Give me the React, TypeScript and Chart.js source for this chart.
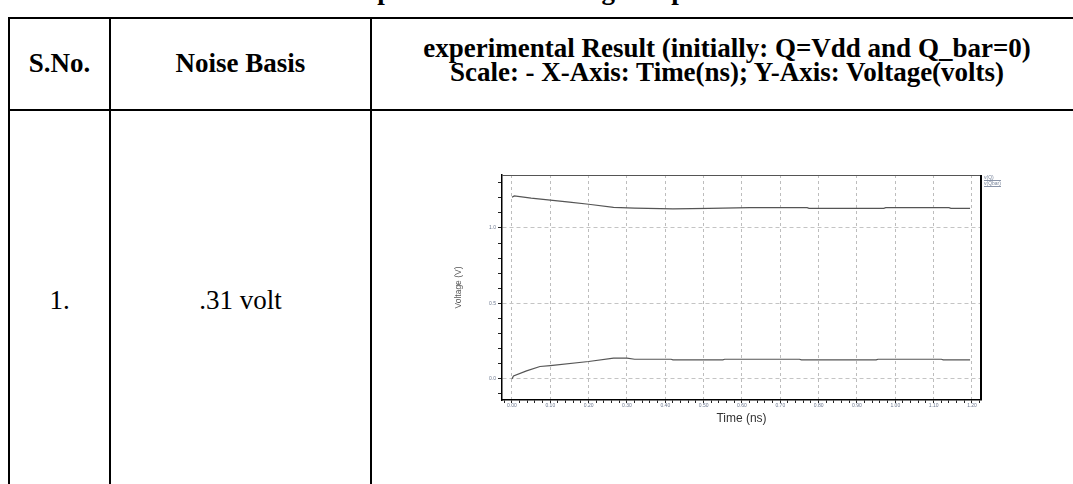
import React, { useEffect, useRef } from 'react';
import { Chart, registerables } from 'chart.js';

Chart.register(...registerables);

// ---- data ----
const timeQ = [0.0, 0.006, 0.05, 0.1, 0.15, 0.2, 0.265, 0.32, 0.42, 0.515, 0.62, 0.77, 0.775, 0.97, 0.975, 1.14, 1.145, 1.195];
const voltQ = [1.203, 1.212, 1.198, 1.185, 1.171, 1.157, 1.137, 1.132, 1.126, 1.13, 1.135, 1.135, 1.13, 1.13, 1.135, 1.135, 1.13, 1.13];
const timeQbar = [0.0, 0.004, 0.038, 0.073, 0.1, 0.2, 0.265, 0.3, 0.32, 0.415, 0.42, 0.55, 0.555, 0.75, 0.755, 0.95, 0.955, 1.12, 1.125, 1.195];
const voltQbar = [0.0, 0.02, 0.053, 0.082, 0.088, 0.115, 0.137, 0.137, 0.13, 0.13, 0.126, 0.126, 0.13, 0.13, 0.126, 0.126, 0.13, 0.13, 0.126, 0.126];
const seriesNames = ['v(Q)', 'v(Qbar)'];
const xMajorStep = 0.1;
const xMinorStep = 0.02;
const yLabelStep = 0.5;
const yMinorStep = 0.1;

const caption = 'Table 7: Sleep Mode Noise Voltage output state Source';
const headers = ['S.No.', 'Noise Basis'];
const header3 = ['experimental Result (initially: Q=Vdd and Q_bar=0)', 'Scale: - X-Axis: Time(ns); Y-Axis: Voltage(volts)'];
const row1 = ['1.', '.31 volt'];

const near = (v: number, step: number) => Math.abs(v / step - Math.round(v / step)) < 1e-6;

function VoltageChart() {
  const ref = useRef<HTMLCanvasElement | null>(null);
  useEffect(() => {
    if (!ref.current) return;
    const frame = {
      id: 'frame',
      afterDraw(chart: any) {
        const { ctx, chartArea: a } = chart;
        ctx.save();
        ctx.strokeStyle = '#555';
        ctx.lineWidth = 1;
        ctx.beginPath();
        ctx.moveTo(a.left, a.top + 0.5);
        ctx.lineTo(a.right, a.top + 0.5);
        ctx.stroke();
        ctx.strokeStyle = '#000';
        ctx.lineWidth = 2;
        ctx.beginPath();
        ctx.moveTo(a.right, a.top);
        ctx.lineTo(a.right, a.bottom);
        ctx.stroke();
        ctx.restore();
      },
    };
    const chart = new Chart(ref.current, {
      type: 'line',
      data: {
        datasets: [
          {
            label: seriesNames[0],
            data: timeQ.map((t, i) => ({ x: t, y: voltQ[i] })),
            borderColor: '#555',
            borderWidth: 1.2,
            pointRadius: 0,
            tension: 0,
          },
          {
            label: seriesNames[1],
            data: timeQbar.map((t, i) => ({ x: t, y: voltQbar[i] })),
            borderColor: '#555',
            borderWidth: 1.2,
            pointRadius: 0,
            tension: 0,
          },
        ],
      },
      options: {
        animation: false,
        responsive: false,
        layout: { padding: { top: 15, right: 39, left: 0, bottom: 0 } },
        plugins: { legend: { display: false }, tooltip: { enabled: false } },
        scales: {
          x: {
            type: 'linear',
            min: -0.026,
            max: 1.2235,
            afterBuildTicks: (scale: any) => {
              const ticks = [];
              for (let i = -1; i <= 61; i++) ticks.push({ value: Math.round(i * xMinorStep * 100) / 100 });
              scale.ticks = ticks;
            },
            afterFit: (scale: any) => {
              scale.height = 40;
            },
            ticks: {
              autoSkip: false,
              maxRotation: 0,
              padding: 0,
              font: { family: 'Liberation Sans, Arial, sans-serif', size: 5 },
              color: '#6d7890',
              callback: (v: any) => (near(Number(v), xMajorStep) ? Number(v).toFixed(2) : ''),
            },
            grid: {
              color: (c: any) => (c.tick && near(c.tick.value, xMajorStep) ? '#bdbdbd' : 'rgba(0,0,0,0)'),
              lineWidth: 1,
              tickColor: '#222',
              tickLength: 3,
            },
            border: { color: '#000', width: 1.5, dash: [3, 3] },
            title: {
              display: true,
              text: 'Time (ns)',
              color: '#333',
              font: { family: 'Liberation Sans, Arial, sans-serif', size: 12 },
              padding: { top: 0, bottom: 14 },
            },
          },
          y: {
            type: 'linear',
            min: -0.14,
            max: 1.351,
            afterBuildTicks: (scale: any) => {
              const ticks = [];
              for (let i = -1; i <= 13; i++) ticks.push({ value: Math.round(i * yMinorStep * 10) / 10 });
              scale.ticks = ticks;
            },
            afterFit: (scale: any) => {
              scale.width = 62;
            },
            ticks: {
              autoSkip: false,
              padding: 2,
              font: { family: 'Liberation Sans, Arial, sans-serif', size: 5 },
              color: '#6d7890',
              callback: (v: any) => (near(Number(v), yLabelStep) ? Number(v).toFixed(1) : ''),
            },
            grid: {
              color: (c: any) => (c.tick && near(c.tick.value, yLabelStep) ? '#c4c4c4' : 'rgba(0,0,0,0)'),
              lineWidth: 1,
              tickColor: '#222',
              tickLength: 4,
            },
            border: { color: '#000', width: 1.5, dash: [4, 3] },
            title: {
              display: true,
              text: 'Voltage (V)',
              color: '#555',
              font: { family: 'Liberation Sans, Arial, sans-serif', size: 8.5 },
              padding: { top: 14, bottom: 0 },
            },
          },
        },
      },
      plugins: [frame],
    } as any);
    return () => chart.destroy();
  }, []);
  return <canvas ref={ref} width={580} height={280} style={{ position: 'absolute', left: 440, top: 160, width: 580, height: 280 }} />;
}

const line = (left: number, top: number, width: number, height: number) => (
  <div style={{ position: 'absolute', left, top, width, height, background: '#000' }} />
);

const cellText = (text: string, left: number, width: number, cy: number, size: number, bold: boolean) => (
  <div
    style={{
      position: 'absolute',
      left,
      width,
      top: cy - 16,
      height: 32,
      lineHeight: '32px',
      textAlign: 'center',
      fontSize: size,
      fontWeight: bold ? 'bold' : 'normal',
      whiteSpace: 'nowrap',
    }}
  >
    {text}
  </div>
);

export default function App() {
  return (
    <div
      style={{
        position: 'fixed',
        left: 0,
        top: 0,
        width: 1073,
        height: 484,
        overflow: 'hidden',
        background: '#fff',
        color: '#000',
        fontFamily: '"Liberation Serif", "Times New Roman", serif',
      }}
    >
      {cellText(caption, 200, 688, -10, 27, true)}
      {line(8, 17, 1065, 2)}
      {line(8, 109, 1065, 2)}
      {line(8, 17, 2, 467)}
      {line(109, 17, 2, 467)}
      {line(370, 17, 2, 467)}
      {cellText(headers[0], 10, 99, 63, 27, true)}
      {cellText(headers[1], 111, 259, 63, 27, true)}
      {cellText(header3[0], 372, 710, 48, 27, true)}
      {cellText(header3[1], 372, 710, 72, 27, true)}
      {cellText(row1[0], 10, 99, 300, 27, false)}
      {cellText(row1[1], 111, 259, 300, 27, false)}
      <VoltageChart />
      <div
        style={{
          position: 'absolute',
          left: 984,
          top: 175,
          fontFamily: 'Liberation Sans, Arial, sans-serif',
          fontSize: 5,
          lineHeight: '5px',
          color: '#7a869c',
        }}
      >
        <div style={{ borderBottom: '1px solid #8a94a8' }}>{seriesNames[0]}</div>
        <div style={{ borderBottom: '1px solid #8a94a8' }}>{seriesNames[1]}</div>
      </div>
    </div>
  );
}
